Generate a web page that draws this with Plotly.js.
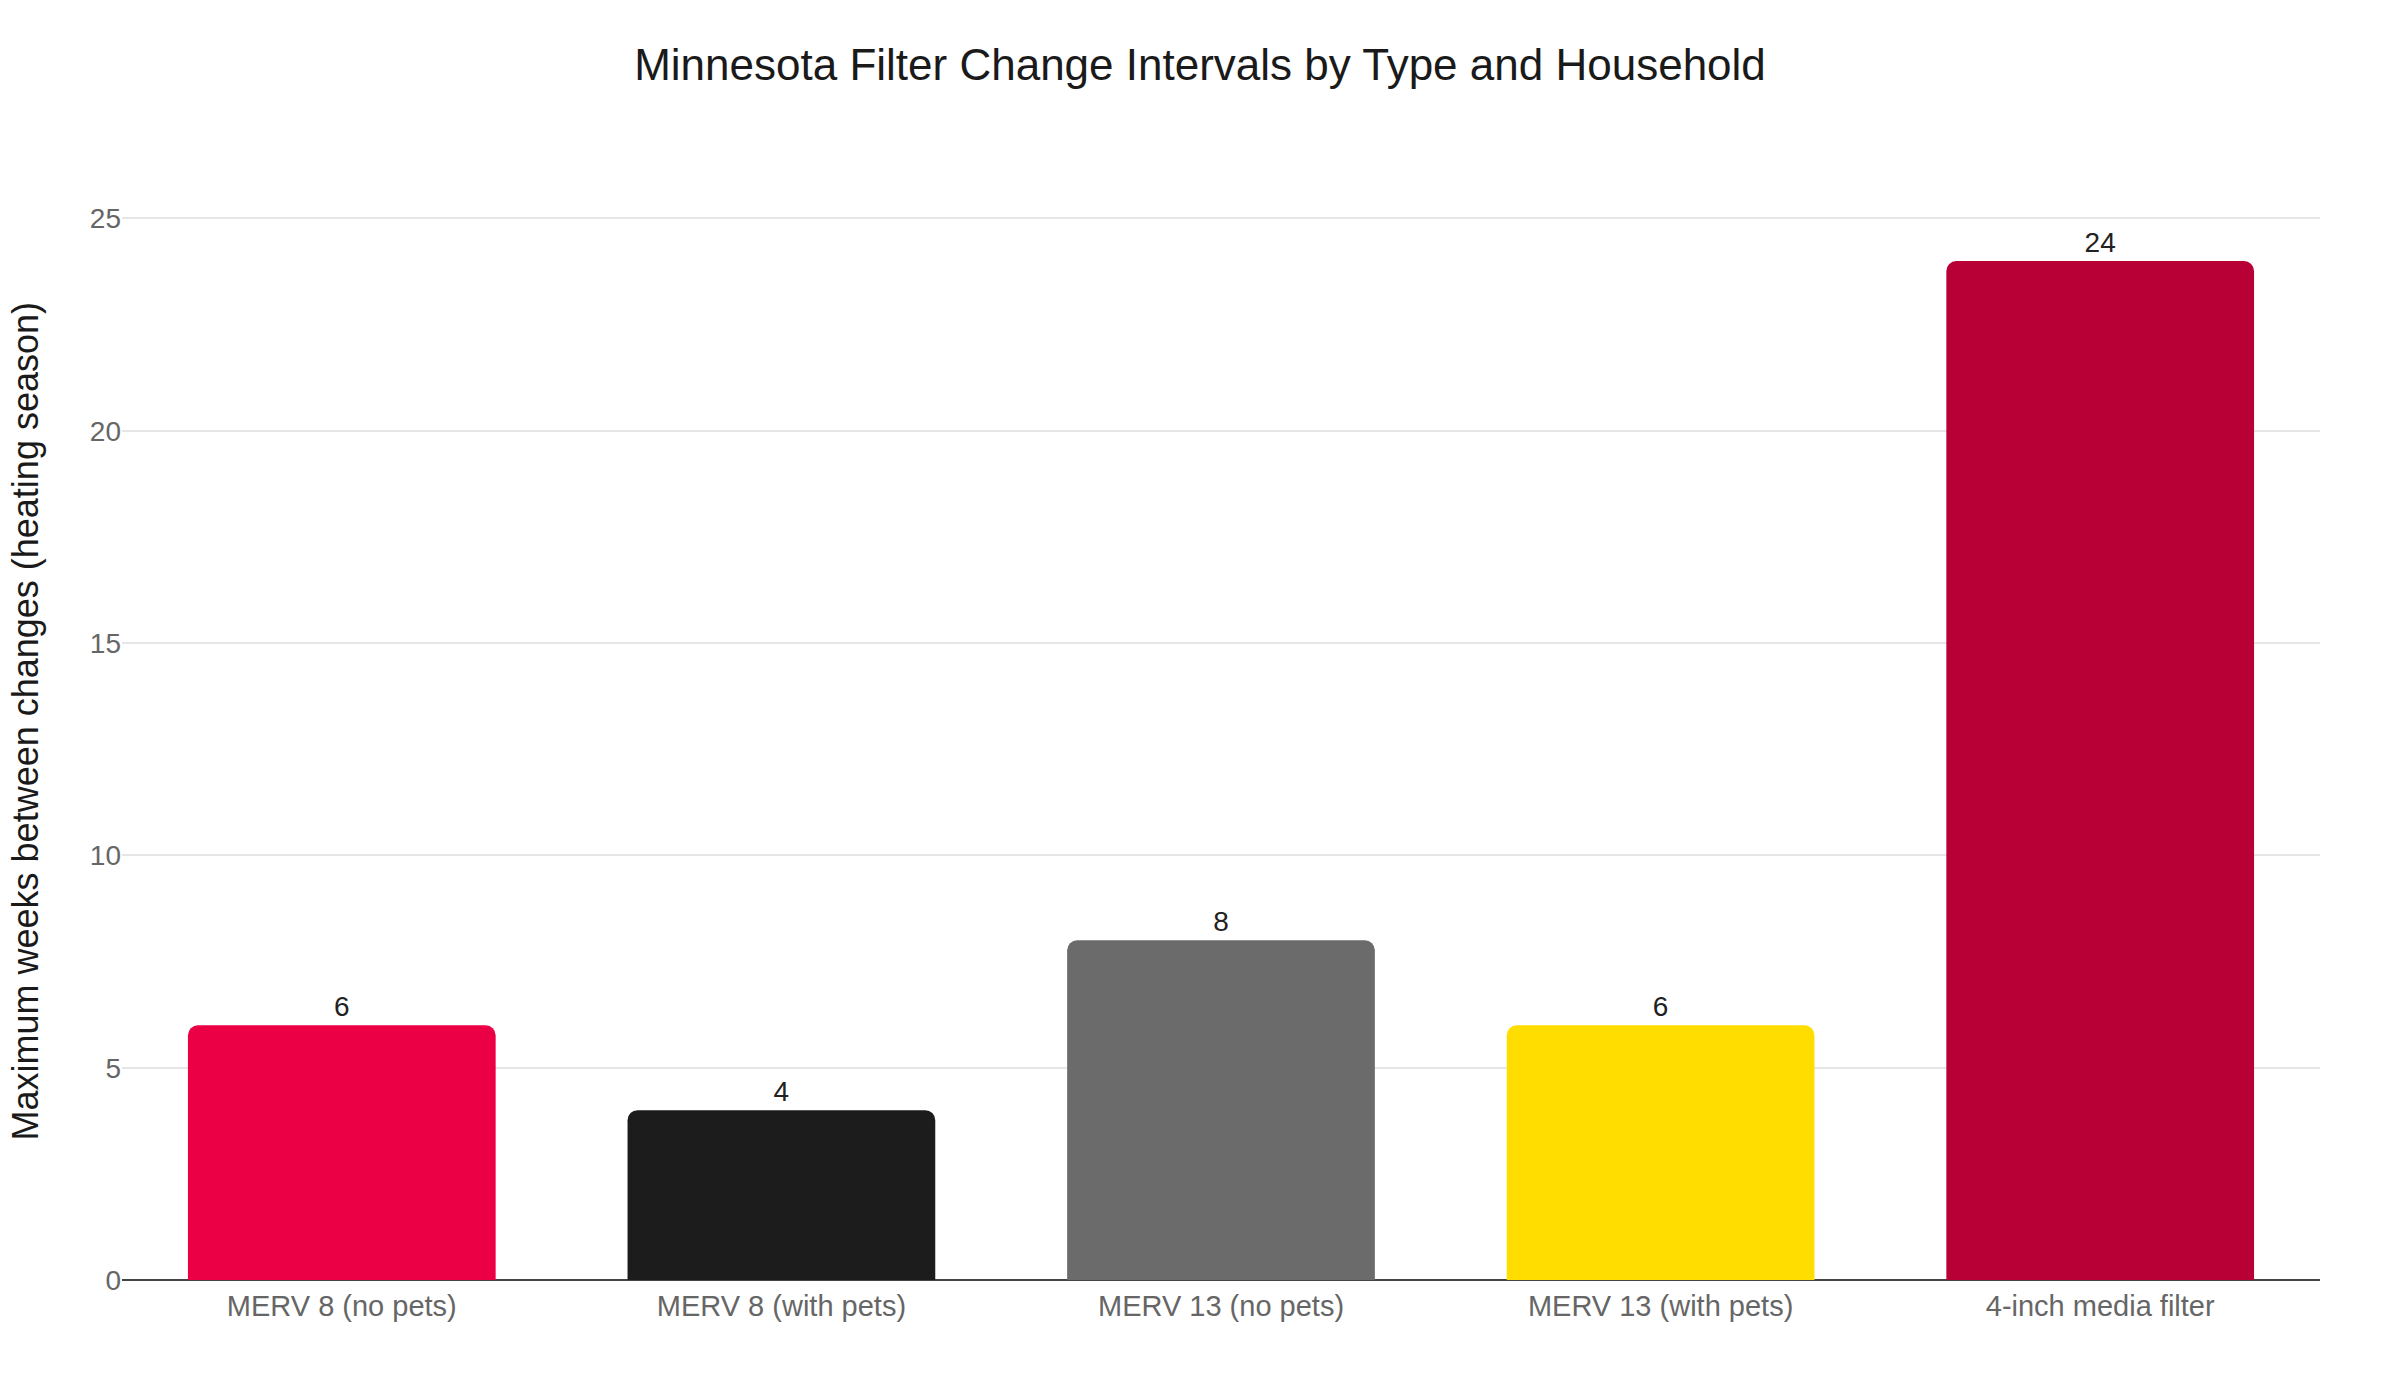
<!DOCTYPE html>
<html>
<head>
<meta charset="utf-8">
<script src="https://cdn.plot.ly/plotly-3.0.1.min.js"></script>
<style>
  html, body { margin: 0; padding: 0; background: #fff; }
  #chart { width: 2400px; height: 1400px; }
</style>
</head>
<body>
<div id="chart"></div>
<script>
// filter types and the max weeks between changes
const categories = [
  "MERV 8 (no pets)",
  "MERV 8 (with pets)",
  "MERV 13 (no pets)",
  "MERV 13 (with pets)",
  "4-inch media filter"
];
const maxWeeks = [6, 4, 8, 6, 24];
const barColors = ["#EB0045", "#1C1C1C", "#6B6B6B", "#FFDD00", "#B80036"];
const yTicks = [0, 5, 10, 15, 20, 25];
const yTitle = "Maximum weeks between changes (heating season)";

const FONT = "Liberation Sans, Arial, Helvetica, sans-serif";

const trace = {
  type: "bar",
  x: categories,
  y: maxWeeks,
  marker: { color: barColors, cornerradius: 10 },
  text: maxWeeks.map(String),
  textposition: "outside",
  textfont: { family: FONT, size: 28, color: "#222" },
  cliponaxis: false,
  hoverinfo: "x+y",
  showlegend: false
};

const layout = {
  width: 2400,
  height: 1400,
  paper_bgcolor: "#fff",
  plot_bgcolor: "#fff",
  font: { family: FONT, color: "#222" },
  margin: { l: 122, r: 80, t: 210, b: 120 },
  bargap: 0.3,
  title: {
    text: "Minnesota Filter Change Intervals by Type and Household",
    font: { family: FONT, size: 44, color: "#1a1a1a" },
    x: 0.5,
    xanchor: "center",
    y: 0.954,
    yref: "container",
    yanchor: "middle"
  },
  xaxis: {
    tickfont: { family: FONT, size: 29, color: "#666" },
    ticklabelstandoff: 6,
    showgrid: false,
    showline: false,
    ticks: ""
  },
  yaxis: {
    range: [0, 25.2],
    tickvals: yTicks,
    tickfont: { family: FONT, size: 28, color: "#666" },
    gridcolor: "#e6e6e6",
    gridwidth: 2,
    zeroline: true,
    zerolinecolor: "#444",
    zerolinewidth: 2,
    showline: false,
    ticks: "",
    automargin: false
  },
  // y-axis title as a rotated annotation, sits a bit above the plot centre
  annotations: [{
    text: yTitle,
    xref: "paper",
    yref: "paper",
    x: 0,
    xshift: -97,
    xanchor: "center",
    y: 0.522,
    yanchor: "middle",
    textangle: -90,
    showarrow: false,
    font: { family: FONT, size: 36, color: "#1a1a1a" }
  }]
};

Plotly.newPlot("chart", [trace], layout, { displayModeBar: false, staticPlot: true });
</script>
</body>
</html>
